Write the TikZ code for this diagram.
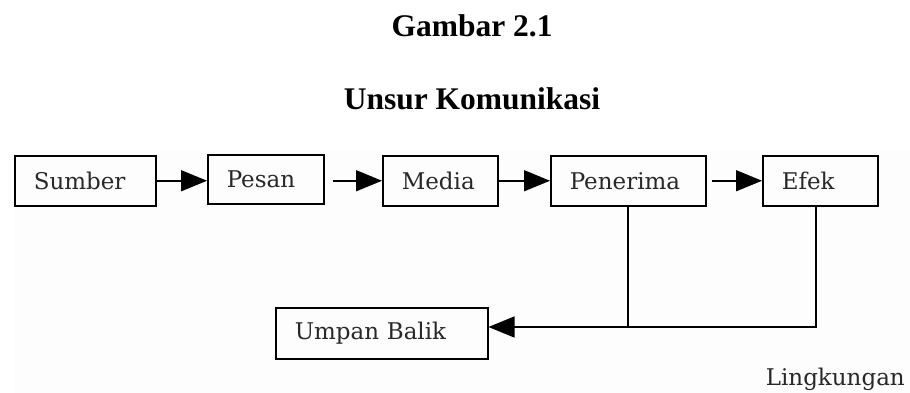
\documentclass[tikz,border=0pt]{standalone}
\usepackage{fontspec}
\setmainfont{Liberation Serif}
\newfontfamily\boxfont{DejaVu Serif}
\usetikzlibrary{arrows.meta}
\definecolor{bgpale}{RGB}{253,253,253}
\definecolor{txt}{RGB}{40,40,40}
\tikzset{
  unitbox/.style={draw=black, line width=1.5pt, inner xsep=19pt, inner ysep=0pt,
    minimum height=50pt, align=left, anchor=north west, text=txt,
    font=\boxfont\fontsize{23}{26}\selectfont},
  flow/.style={line width=1.5pt, -{Triangle[length=26pt,width=21pt]}},
  plain/.style={line width=1.5pt},
  titletext/.style={font=\bfseries\fontsize{31.5}{36}\selectfont, anchor=base, inner sep=0pt}
}
\begin{document}
\begin{tikzpicture}[x=1pt,y=-1pt]
\useasboundingbox (0,0) rectangle (910,393);
\fill[bgpale] (14,150) rectangle (910,393);
\node[titletext] (t1) at (472,37) {Gambar 2.1};
\node[titletext] (t2) at (472,110) {Unsur Komunikasi};
\node[unitbox, text width=103pt] (sumber) at (14,155) {Sumber};
\node[unitbox, text width=78pt, minimum height=49pt] (pesan) at (207,154) {Pesan};
\node[unitbox, text width=77pt] (media) at (382,155) {Media};
\node[unitbox, text width=117pt] (penerima) at (550,155) {Penerima};
\node[unitbox, text width=77pt] (efek) at (762,155) {Efek};
\node[unitbox, text width=174pt, minimum height=51pt] (umpan) at (275,307) {Umpan Balik};
\node[anchor=base east, inner sep=0pt, text=txt, font=\boxfont\fontsize{23}{26}\selectfont] (ling) at (905,385) {Lingkungan};
\coordinate (j) at (628,327);
\coordinate (k) at (816,327);
\draw[flow] (sumber.east) -- (sumber.east -| pesan.west);
\draw[flow, shorten <=8pt] (pesan.east |- sumber.east) -- (sumber.east -| media.west);
\draw[flow] (media.east) -- (penerima.west);
\draw[flow, shorten <=5pt] (penerima.east) -- (efek.west);
\draw[plain] (j |- penerima.south) -- (j);
\draw[plain] (k |- efek.south) -- (k) -- (j);
\draw[flow] (j) -- (j -| umpan.east);
\end{tikzpicture}
\end{document}
